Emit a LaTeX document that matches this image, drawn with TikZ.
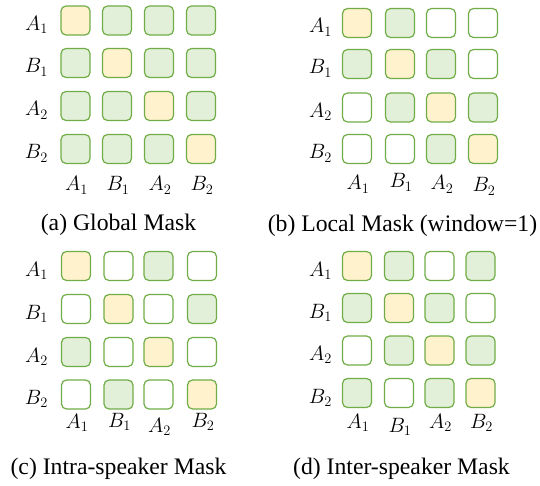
\documentclass[tikz,border=0pt]{standalone}
\usepackage[no-math]{fontspec}
\setmainfont{Liberation Serif}
\definecolor{cellfill0}{HTML}{FFFFFF}
\definecolor{cellfill1}{HTML}{E2F0D9}
\definecolor{cellfill2}{HTML}{FFF2CC}
\definecolor{cellborder}{HTML}{70AD47}
\tikzset{
  cellbox/.style={draw=cellborder, line width=1.2pt, rounded corners=5pt,
    minimum width=29pt, minimum height=29pt, inner sep=0pt},
  rowlab/.style={anchor=base east, inner sep=0pt, font=\fontsize{22}{26}\selectfont},
  collab/.style={anchor=base, inner sep=0pt, font=\fontsize{22}{26}\selectfont},
  captext/.style={anchor=base, inner sep=0pt, font=\fontsize{23.7}{28}\selectfont},
}
% #1 name, #2 column x list, #3 row y list, #4 pattern (0 white, 1 green, 2 yellow),
% #5 right edge of row labels, #6 baselines of column labels
\newcommand\maskpanel[6]{%
  \foreach \r/\lab in {0/A_1,1/B_1,2/A_2,3/B_2}{%
    \pgfmathsetmacro\cy{{#3}[\r]}%
    \node[rowlab] (#1-r\r) at (#5,\cy+10) {$\lab$};
    \foreach \c in {0,...,3}{%
      \pgfmathsetmacro\cx{{#2}[\c]}%
      \pgfmathtruncatemacro\k{4*\r+\c}%
      \pgfmathtruncatemacro\st{{#4}[\k]}%
      \node[cellbox, fill=cellfill\st] (#1-\r-\c) at (\cx,\cy) {};
    }
  }
  \foreach \c/\lab in {0/A_1,1/B_1,2/A_2,3/B_2}{%
    \pgfmathsetmacro\cx{{#2}[\c]}%
    \pgfmathsetmacro\bl{{#6}[\c]}%
    \node[collab] (#1-c\c) at (\cx+1,\bl) {$\lab$};
  }
}
\begin{document}
\begin{tikzpicture}[x=1pt,y=-1pt]
\useasboundingbox (0,0) rectangle (540,486);
% (a) Global Mask
\maskpanel{a}{75.5,117,159,201}{20.5,63,106,149}
  {2,1,1,1, 1,2,1,1, 1,1,2,1, 1,1,1,2}{48}{191,191,191,191}
\node[captext] (capa) at (118.5,230) {(a) Global Mask};
% (b) Local Mask
\maskpanel{b}{357,400,441,483}{23,64,107.5,149}
  {2,1,0,0, 1,2,1,0, 0,1,2,1, 0,0,1,2}{332}{190,188,190,192}
\node[captext] (capb) at (402.5,232) {(b) Local Mask (window=1)};
% (c) Intra-speaker Mask
\maskpanel{c}{76,118.5,158.5,202}{266,309,352,394.5}
  {2,0,1,0, 0,2,0,1, 1,0,2,0, 0,1,0,2}{48}{428,427,432,427}
\node[captext] (capc) at (118.5,474) {(c) Intra-speaker Mask};
% (d) Inter-speaker Mask
\maskpanel{d}{357,399,439.5,480.5}{266,308,350.5,393}
  {2,1,0,1, 1,2,1,0, 0,1,2,1, 1,0,1,2}{332}{428,432,428,428}
\node[captext] (capd) at (401.5,474) {(d) Inter-speaker Mask};
\end{tikzpicture}
\end{document}
